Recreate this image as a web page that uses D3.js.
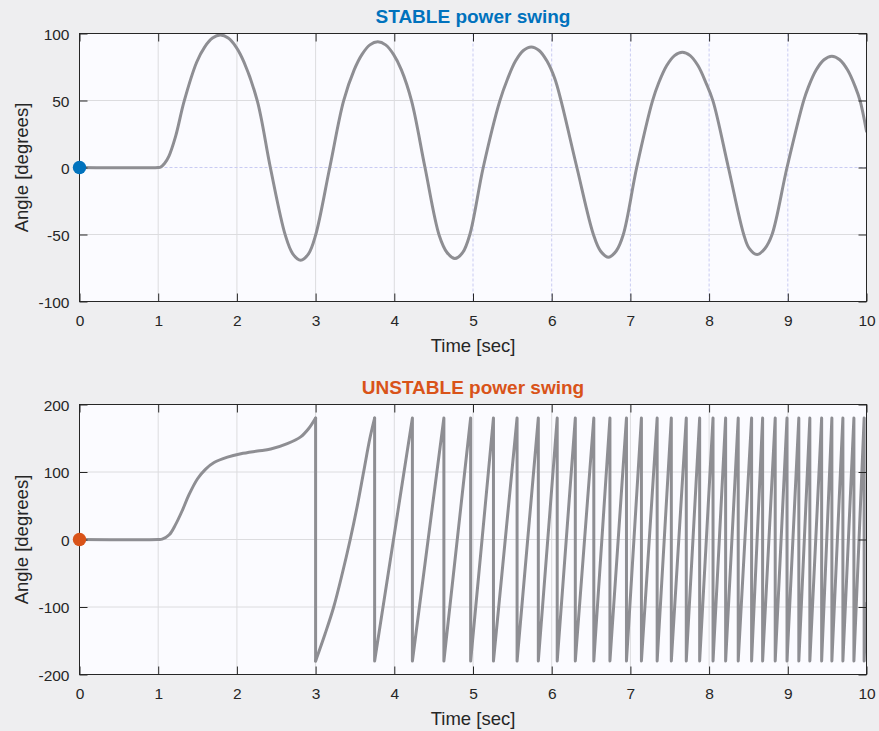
<!DOCTYPE html>
<html><head><meta charset="utf-8">
<script src="https://cdn.jsdelivr.net/npm/d3@7"></script>
<style>
html,body{margin:0;padding:0;background:#eeeef0;}
svg{display:block;}
text{font-family:"Liberation Sans",Arial,Helvetica,sans-serif;}
</style></head><body>
<svg id="chart" width="879" height="731"></svg>
<script>
// ---------- DATA ----------
const xTicks = [0,1,2,3,4,5,6,7,8,9,10];
const stableYTicks = [-100,-50,0,50,100];
const unstableYTicks = [-200,-100,0,100,200];

const stableTime = [
  0, 1.0, 1.03, 1.08, 1.135, 1.22, 1.33, 1.49, 1.59, 1.69,
  1.79, 1.89, 1.99, 2.09, 2.26, 2.425, 2.615, 2.71, 2.81, 2.91,
  3.0, 3.18, 3.355, 3.49, 3.59, 3.69, 3.79, 3.89, 3.99, 4.09,
  4.22, 4.39, 4.57, 4.67, 4.77, 4.87, 4.96, 5.13, 5.34, 5.44,
  5.54, 5.64, 5.74, 5.84, 5.94, 6.04, 6.12, 6.32, 6.53, 6.62,
  6.72, 6.82, 6.91, 7.08, 7.28, 7.36, 7.46, 7.56, 7.66, 7.76,
  7.86, 7.96, 8.05, 8.245, 8.44, 8.51, 8.61, 8.71, 8.80, 8.99,
  9.20, 9.26, 9.36, 9.46, 9.56, 9.66, 9.76, 9.86, 9.92, 10.0
];
const stableAngle = [
  0, 0, 0.3, 3, 8.3, 23, 49.5, 78.7, 89.9, 96.6,
  98.8, 96.6, 89.9, 78.7, 49.5, 0, -50.5, -64.4, -69.2, -64.4,
  -50.5, 0, 49.5, 72.8, 84.4, 91.5, 93.8, 91.5, 84.4, 72.8,
  49.5, 0, -50.5, -63.4, -68, -63.4, -50, 0, 49.5, 66.2,
  79.4, 87.3, 90, 87.3, 79.4, 66.2, 49.5, 0, -50, -62.3,
  -67, -62.3, -50, 0, 49.5, 63.2, 75.9, 83.5, 86, 83.5,
  75.9, 63.2, 49.5, 0, -50, -60.4, -65, -60.4, -50, 0,
  49.5, 59.8, 72.7, 80.4, 83, 80.4, 72.7, 59.8, 49.5, 27
];

// unstable swing: smooth part before first pole slip
const unstableLeadTime  = [0, 1.0, 1.05, 1.14, 1.22, 1.31, 1.39, 1.50, 1.60, 1.71, 1.88, 2.05, 2.26, 2.43, 2.64, 2.81, 2.91, 3.0];
const unstableLeadAngle = [0, 0, 0.5, 7, 22, 44, 66, 90, 104, 114, 122, 127, 131, 134, 142, 152, 164, 180];
// first full rotation after the slip
const firstRiseTime  = [3.0, 3.12, 3.23, 3.34, 3.44, 3.53, 3.61, 3.69, 3.75];
const firstRiseAngle = [-180, -140, -100, -50, 0, 50, 100, 150, 180];
// times where the angle wraps from +180 to -180
const wrapTimes = [3.75, 4.23, 4.63, 4.97, 5.26, 5.56, 5.83, 6.07, 6.30, 6.535,
  6.74, 6.95, 7.14, 7.34, 7.52, 7.71, 7.88, 8.05, 8.21, 8.37,
  8.54, 8.68, 8.84, 8.99, 9.14, 9.28, 9.43, 9.56, 9.70, 9.84, 9.97];
const wrapTop = 180, wrapBottom = -180;
const endTime = 10, endAngle = -95;

// ---------- DRAW ----------
const svg = d3.select("#chart");
const X0 = 79.5, X1 = 866.5;
const TXT = "#262626";
const LINE = "#8e8e93";
const smooth = d3.curveCatmullRom.alpha(0.5);

function zip(a, b){ return a.map((v,i)=>[v,b[i]]); }

function panel(cfg){
  const x = d3.scaleLinear().domain([0,10]).range([X0,X1]);
  const y = d3.scaleLinear().domain(cfg.yDomain).range([cfg.bottom, cfg.top]);
  const g = svg.append("g");
  g.append("rect").attr("x",X0).attr("y",cfg.top).attr("width",X1-X0).attr("height",cfg.bottom-cfg.top).attr("fill","#fbfbff");

  // grid
  const grid = g.append("g");
  xTicks.slice(1,-1).forEach(t=>{
    const alt = cfg.altGrid && t>=5;
    grid.append("line").attr("x1",x(t)).attr("x2",x(t)).attr("y1",cfg.top).attr("y2",cfg.bottom)
      .attr("stroke", alt ? "#c9cbf2" : "#dcdcdf").attr("stroke-width",1)
      .attr("stroke-dasharray", alt ? "3,2" : null);
  });
  cfg.yTicks.slice(1,-1).forEach(v=>{
    const alt = cfg.altGrid && v===0;
    grid.append("line").attr("x1",X0).attr("x2",X1).attr("y1",y(v)).attr("y2",y(v))
      .attr("stroke", alt ? "#c9cbf2" : "#dcdcdf").attr("stroke-width",1)
      .attr("stroke-dasharray", alt ? "3,2" : null);
  });

  // curves
  const clipId = "clip"+cfg.id;
  svg.append("clipPath").attr("id",clipId).append("rect")
    .attr("x",X0).attr("y",cfg.top).attr("width",X1-X0).attr("height",cfg.bottom-cfg.top);
  const cg = g.append("g").attr("clip-path",`url(#${clipId})`);
  cfg.series.forEach(s=>{
    const line = d3.line().x(d=>x(d[0])).y(d=>y(d[1])).curve(s.curve);
    cg.append("path").datum(s.pts).attr("d",line).attr("fill","none")
      .attr("stroke",LINE).attr("stroke-width",3).attr("stroke-linejoin","round").attr("stroke-linecap","round");
  });

  // axes
  const fmt = d=>String(d);
  const ax = g.append("g").attr("transform",`translate(0,${cfg.bottom})`)
    .call(d3.axisBottom(x).tickValues(xTicks).tickFormat(fmt).tickSizeInner(-8).tickSizeOuter(0).tickPadding(13));
  const at = g.append("g").attr("transform",`translate(0,${cfg.top})`)
    .call(d3.axisTop(x).tickValues(xTicks).tickFormat("").tickSizeInner(-8).tickSizeOuter(0));
  const ay = g.append("g").attr("transform",`translate(${X0},0)`)
    .call(d3.axisLeft(y).tickValues(cfg.yTicks).tickFormat(fmt).tickSizeInner(-8).tickSizeOuter(0).tickPadding(10));
  const ar = g.append("g").attr("transform",`translate(${X1},0)`)
    .call(d3.axisRight(y).tickValues(cfg.yTicks).tickFormat("").tickSizeInner(-8).tickSizeOuter(0));
  [ax,at,ay,ar].forEach(a=>{
    a.select(".domain").remove();
    a.selectAll(".tick line").attr("stroke",TXT);
    a.selectAll("text").attr("fill",TXT).style("font-size","15.5px").style("font-family",'"Liberation Sans",Arial,sans-serif');
  });
  ay.selectAll("text").attr("dy","0.36em");

  g.append("rect").attr("x",X0).attr("y",cfg.top).attr("width",X1-X0).attr("height",cfg.bottom-cfg.top)
    .attr("fill","none").attr("stroke",TXT).attr("stroke-width",1);

  // marker
  g.append("circle").attr("cx",x(0)).attr("cy",y(0)).attr("r",6.7).attr("fill",cfg.color);

  // labels
  g.append("text").attr("x",(X0+X1)/2).attr("y",cfg.top-10.5).attr("text-anchor","middle")
    .attr("fill",cfg.color).style("font-weight","bold").style("font-size","19px").text(cfg.title);
  g.append("text").attr("x",(X0+X1)/2).attr("y",cfg.bottom+50).attr("text-anchor","middle")
    .attr("fill",TXT).style("font-size","18.5px").text("Time [sec]");
  g.append("text").attr("transform",`translate(28,${(cfg.top+cfg.bottom)/2}) rotate(-90)`).attr("text-anchor","middle")
    .attr("fill",TXT).style("font-size","18.5px").text("Angle [degrees]");
}

// build series
const sawPts = [];
wrapTimes.forEach(t=>{ sawPts.push([t,wrapTop]); sawPts.push([t,wrapBottom]); });
sawPts.push([endTime,endAngle]);

panel({
  id:"a", top:33.5, bottom:301.5, yDomain:[-100,100], yTicks:stableYTicks,
  title:"STABLE power swing", color:"#0072BD", altGrid:true,
  series:[{pts:zip(stableTime,stableAngle), curve:smooth}]
});
panel({
  id:"b", top:404.5, bottom:674.5, yDomain:[-200,200], yTicks:unstableYTicks,
  title:"UNSTABLE power swing", color:"#D95319", altGrid:false,
  series:[
    {pts:zip(unstableLeadTime,unstableLeadAngle), curve:smooth},
    {pts:[[firstRiseTime[0],wrapTop],[firstRiseTime[0],wrapBottom]], curve:d3.curveLinear},
    {pts:zip(firstRiseTime,firstRiseAngle), curve:smooth},
    {pts:sawPts, curve:d3.curveLinear}
  ]
});
</script>
</body></html>
